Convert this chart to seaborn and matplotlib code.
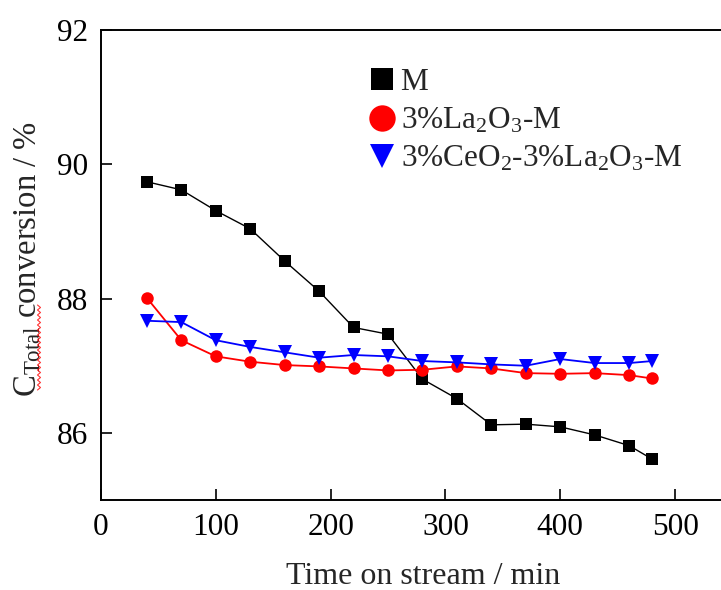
import numpy as np
import pandas as pd
import matplotlib
matplotlib.use("Agg")
import matplotlib.pyplot as plt
from matplotlib.lines import Line2D
import seaborn as sns

# Time on stream (min)
time_min = [40, 70, 100, 130, 160, 190, 220, 250, 280, 310, 340, 370, 400, 430, 460, 480]

# Total conversion (%) for each catalyst
conv_m = [89.74, 89.62, 89.31, 89.04, 88.56, 88.11, 87.57, 87.47, 86.80, 86.51,
          86.12, 86.13, 86.09, 85.97, 85.81, 85.61]
conv_la = [88.01, 87.38, 87.14, 87.06, 87.01, 86.99, 86.96, 86.93, 86.94, 86.99,
           86.96, 86.89, 86.88, 86.89, 86.86, 86.81]
conv_ce_la = [87.67, 87.65, 87.38, 87.28, 87.20, 87.12, 87.16, 87.14, 87.07, 87.05,
              87.02, 87.00, 87.10, 87.04, 87.04, 87.07]

series_labels = ["M", r"3%La$_\mathrm{2}$O$_\mathrm{3}$-M",
                 r"3%CeO$_\mathrm{2}$-3%La$_\mathrm{2}$O$_\mathrm{3}$-M"]
series_colors = ["black", "red", "blue"]
series_markers = ["s", "o", "v"]
series_ms = [8.5, 9, 10]
series_lw = [1.0, 1.3, 1.3]

df = pd.DataFrame({
    "time": time_min * 3,
    "conv": conv_m + conv_la + conv_ce_la,
    "sample": [series_labels[0]] * len(time_min)
              + [series_labels[1]] * len(time_min)
              + [series_labels[2]] * len(time_min),
})

sns.set_theme(style="ticks")
plt.rcParams["font.family"] = ["Liberation Serif", "DejaVu Serif"]
plt.rcParams["mathtext.fontset"] = "custom"
plt.rcParams["mathtext.rm"] = "Liberation Serif"
plt.rcParams["mathtext.it"] = "Liberation Serif:italic"
plt.rcParams["mathtext.bf"] = "Liberation Serif:bold"

W, H = 721, 590
fig = plt.figure(figsize=(W / 100, H / 100), dpi=100)
ax = fig.add_axes([0.140, 0.1525, 0.860, 0.7966])

for lab, col, mk, ms, lw in zip(series_labels, series_colors, series_markers,
                                series_ms, series_lw):
    sub = df[df["sample"] == lab]
    sns.lineplot(data=sub, x="time", y="conv", color=col, marker=mk,
                 markersize=ms, markeredgewidth=0, linewidth=lw, ax=ax,
                 legend=False)

ax.set_xlim(0, 540)
ax.set_ylim(85, 92)
ax.set_xticks([0, 100, 200, 300, 400, 500])
ax.set_yticks([86, 88, 90, 92])
ax.tick_params(direction="in", length=8, width=1.2, labelsize=22.5, pad=9,
               colors="black")
for side in ["left", "bottom", "top"]:
    ax.spines[side].set_linewidth(1.4)
    ax.spines[side].set_color("black")
ax.spines["right"].set_visible(False)

ax.set_xlabel("Time on stream / min", fontsize=23)
ax.xaxis.set_label_coords(0.519, -0.132)
ax.set_ylabel(r"C$_\mathrm{Total}$ conversion / %", fontsize=23.5)
ax.yaxis.set_label_coords(-0.093, 0.512)

# red wavy underline beneath the "Total" subscript
wy = np.arange(305, 391, 2.5)
wx = np.where(np.arange(wy.size) % 2 == 0, 37.5, 40.5)
fig.add_artist(Line2D(wx / W, 1 - wy / H, transform=fig.transFigure,
                      color="red", linewidth=0.8, alpha=0.8))

handles = [Line2D([], [], linestyle="none", marker=mk, color=col,
                  markeredgewidth=0, markersize=s)
           for mk, col, s in zip(series_markers, series_colors, [16, 19, 17])]
ax.legend(handles, series_labels, loc="upper left", frameon=False,
          bbox_to_anchor=(0.395, 0.965), fontsize=22.5, handlelength=0.9,
          handletextpad=0.15, labelspacing=0.28, borderpad=0.2)

fig.savefig("out.png", dpi=100)
